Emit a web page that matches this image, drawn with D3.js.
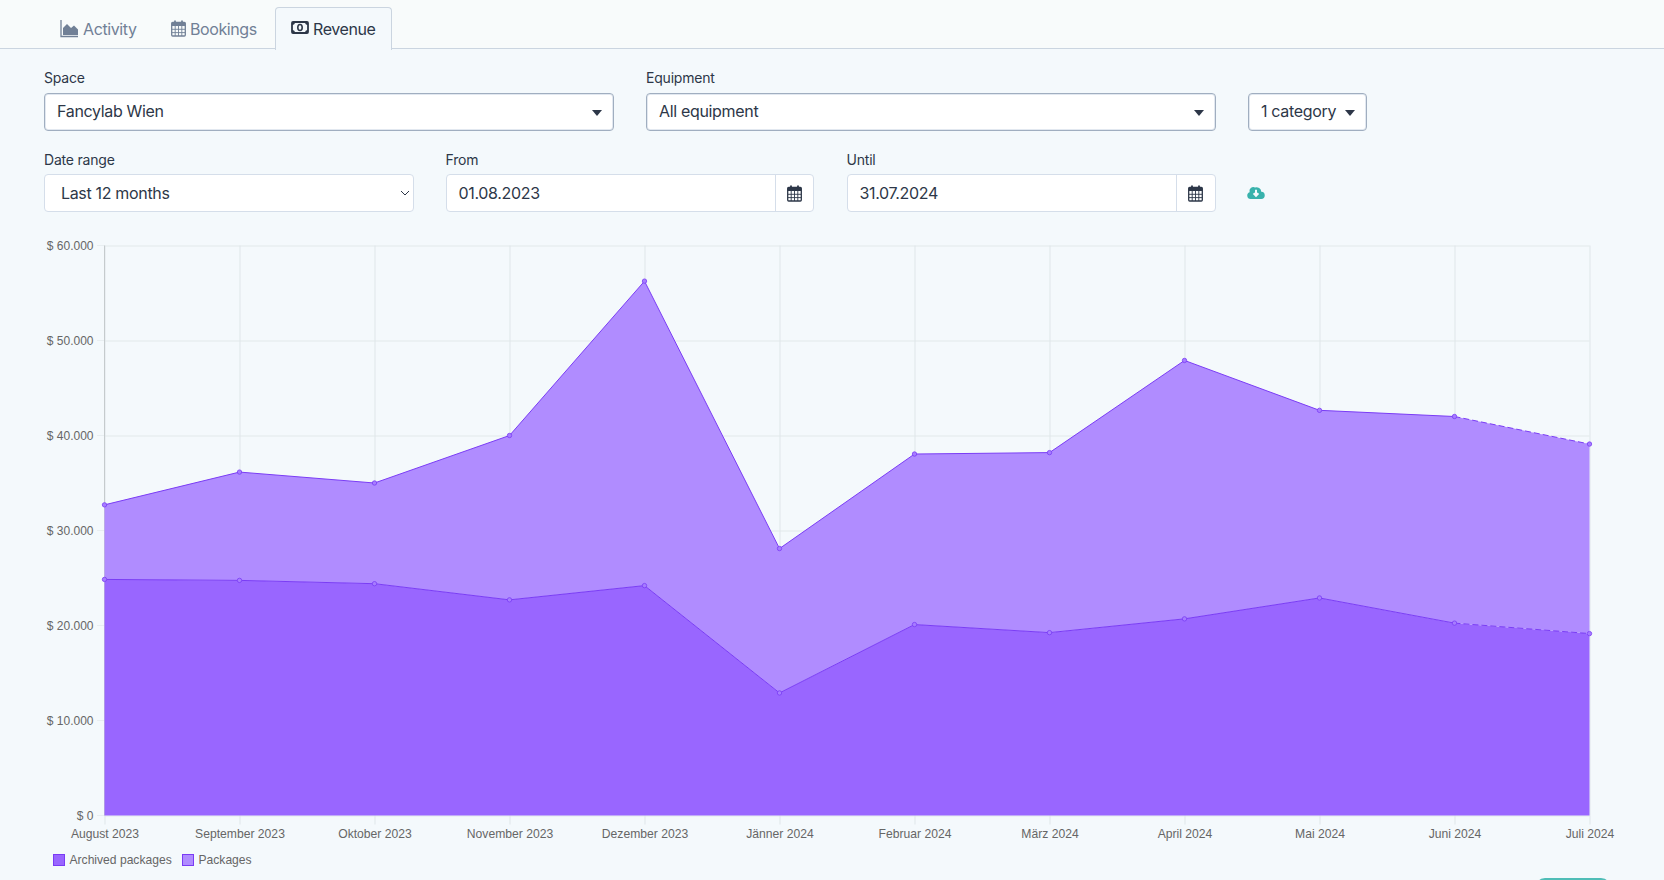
<!DOCTYPE html>
<html>
<head>
<meta charset="utf-8">
<script src="https://cdn.jsdelivr.net/npm/d3@7"></script>
<style>
html, body { margin: 0; padding: 0; width: 1664px; height: 880px; overflow: hidden; background: #f4f9fc; font-family: Inter, sans-serif; color: #2d3748; }
.abs { position: absolute; box-sizing: border-box; white-space: nowrap; }
.tabbar { left: 0; top: 0; width: 1664px; height: 49px; background: #f8fbfb; border-bottom: 1px solid #cbd5e0; }
.tab { top: 18.5px; font-size: 16px; line-height: 20px; color: #718096; letter-spacing: -0.4px; }
.tabactive { left: 275px; top: 7px; width: 117px; height: 43px; background: #f4f9fc; border: 1px solid #cbd5e0; border-bottom: none; border-radius: 4px 4px 0 0; }
.label { font-size: 14px; line-height: 18px; color: #2d3748; letter-spacing: -0.2px; }
.box { background: #fff; border-radius: 4px; font-size: 16px; line-height: 21px; color: #2d3748; display: flex; align-items: center; letter-spacing: -0.33px; }
.strong { border: 1px solid #a0aec0; box-shadow: 0 0 0 1px #e2e8f0 inset; }
.soft { border: 1px solid #d5deea; }
.caret { position: absolute; width: 0; height: 0; border-left: 5.5px solid transparent; border-right: 5.5px solid transparent; border-top: 6px solid #2d3748; }
.divider { position: absolute; top: 0; bottom: 0; width: 1px; background: #d5deea; }
svg.icon { position: absolute; overflow: visible; }
#chart { position: absolute; left: 0; top: 225px; }
.pill { left: 1535px; top: 878px; width: 76px; height: 20px; background: #4fbdb7; border-radius: 10px; }
</style>
</head>
<body>
<div class="abs tabbar"></div>
<div class="abs tabactive"></div>
<div class="abs tab" style="left:83px">Activity</div>
<div class="abs tab" style="left:190px">Bookings</div>
<div class="abs tab" style="left:313px;color:#2d3748">Revenue</div>

<div class="abs label" style="left:44px;top:69px">Space</div>
<div class="abs box strong" style="left:44px;top:92.5px;width:570px;height:38px;padding-left:12px">Fancylab Wien<span class="caret" style="right:11px;top:16px"></span></div>
<div class="abs label" style="left:646px;top:69px">Equipment</div>
<div class="abs box strong" style="left:646px;top:92.5px;width:570px;height:38px;padding-left:12px">All equipment<span class="caret" style="right:11px;top:16px"></span></div>
<div class="abs box strong" style="left:1248px;top:92.5px;width:118.5px;height:38px;padding-left:12px">1 category<span class="caret" style="right:11px;top:16px"></span></div>

<div class="abs label" style="left:44px;top:151px">Date range</div>
<div class="abs box soft" style="left:44px;top:174px;width:369.5px;height:38px;padding-left:16px">Last 12 months<svg class="icon" style="right:3px;top:15px" width="10" height="7"><path d="M1,1L5,5L9,1" fill="none" stroke="#2d3748" stroke-width="1"/></svg></div>
<div class="abs label" style="left:445.5px;top:151px">From</div>
<div class="abs box soft" style="left:445.5px;top:174px;width:368.5px;height:38px;padding-left:12px">01.08.2023<span class="divider" style="left:328px"></span><svg class="icon cal" style="left:340px;top:10px"></svg></div>
<div class="abs label" style="left:846.5px;top:151px">Until</div>
<div class="abs box soft" style="left:846.5px;top:174px;width:369.5px;height:38px;padding-left:12px">31.07.2024<span class="divider" style="left:328px"></span><svg class="icon cal" style="left:340px;top:10px"></svg></div>

<svg class="icon" style="left:1247px;top:185px" width="18" height="14"><path d="M3.5,14A3.5,3.5 0 0 1 2.6,7.2A4,4 0 0 1 8,2.4A5,5 0 0 1 14.3,6.8A3.6,3.6 0 0 1 14,14Z" fill="#38b2ac"/><path d="M9,4.8V10.2M6.6,8.2L9,10.8L11.4,8.2" fill="none" stroke="#f4f9fc" stroke-width="2"/></svg>

<svg id="tabicons" class="icon" style="left:0;top:0" width="400" height="48"></svg>
<svg id="chart" width="1664" height="655"></svg>
<div class="abs pill"></div>

<script>
// monthly revenue
var revenue = [
    { month: "August 2023", archived: 24850, packages: 7850 },
    { month: "September 2023", archived: 24750, packages: 11400 },
    { month: "Oktober 2023", archived: 24400, packages: 10600 },
    { month: "November 2023", archived: 22700, packages: 17300 },
    { month: "Dezember 2023", archived: 24200, packages: 32050 },
    { month: "Jänner 2024", archived: 12900, packages: 15200 },
    { month: "Februar 2024", archived: 20100, packages: 17950 },
    { month: "März 2024", archived: 19250, packages: 18950 },
    { month: "April 2024", archived: 20700, packages: 27200 },
    { month: "Mai 2024", archived: 22900, packages: 19750 },
    { month: "Juni 2024", archived: 20250, packages: 21750 },
    { month: "Juli 2024", archived: 19150, packages: 19950 }
];
var seriesInfo = {
    archived: { name: "Archived packages", fill: "#9966ff" },
    packages: { name: "Packages", fill: "#b08cff" }
};
var lineColor = "#7a3cf5";
var gridColor = "#e8eef1";
var textColor = "#666";

var svg = d3.select("#chart");
var chartFont = "'Liberation Sans', Arial, sans-serif";

var x = d3.scalePoint()
    .domain(revenue.map(function (d) { return d.month; }))
    .range([104.5, 1589.5]);
var y = d3.scaleLinear()
    .domain([0, 60000])
    .range([590.5, 20.5]);

function money(v) {
    return "$ " + d3.format(",")(v).replace(/,/g, ".");
}

// grid
svg.append("g")
    .attr("transform", "translate(104.5,0)")
    .call(d3.axisLeft(y).ticks(6).tickSize(-1485).tickSizeOuter(0).tickFormat(money))
    .call(function (g) {
        g.select(".domain").remove();
        g.selectAll("line").attr("stroke", gridColor).attr("stroke-width", 1.5);
        g.selectAll("text").attr("fill", textColor).style("font", "12px " + chartFont).attr("x", -11);
    });
svg.append("g")
    .attr("transform", "translate(0,590.5)")
    .call(d3.axisBottom(x).tickSize(-570).tickSizeOuter(0).tickFormat(""))
    .call(function (g) {
        g.select(".domain").remove();
        g.selectAll("line").attr("stroke", "#dfe6e9").attr("stroke-width", 1);
    });
svg.append("g")
    .attr("transform", "translate(0,590.5)")
    .call(d3.axisBottom(x).tickSize(9).tickSizeOuter(0).tickPadding(5))
    .call(function (g) {
        g.select(".domain").remove();
        g.selectAll("line").attr("stroke", "#dfe6e9");
        g.selectAll("text").attr("fill", textColor).style("font", "12.15px " + chartFont);
    });
// short ticks left of the y axis
svg.selectAll(".ytick")
    .data(y.ticks(6))
    .enter().append("line")
    .attr("x1", 97).attr("x2", 104.5)
    .attr("y1", function (d) { return y(d); })
    .attr("y2", function (d) { return y(d); })
    .attr("stroke", gridColor);
svg.append("line")
    .attr("x1", 104.5).attr("x2", 104.5)
    .attr("y1", y(60000)).attr("y2", y(0))
    .attr("stroke", "#c5cbcd");

// stacked areas
var keys = ["archived", "packages"];
var layers = d3.stack().keys(keys)(revenue);

var area = d3.area()
    .x(function (d) { return x(d.data.month); })
    .y0(function (d) { return y(d[0]); })
    .y1(function (d) { return y(d[1]); });

svg.selectAll(".layer")
    .data(layers)
    .enter().append("path")
    .attr("class", "layer")
    .attr("d", area)
    .attr("fill", function (d) { return seriesInfo[d.key].fill; });

var line = d3.line()
    .x(function (d) { return x(d.data.month); })
    .y(function (d) { return y(d[1]); });

layers.forEach(function (layer) {
    // last month is not complete yet, so it is dashed
    var solid = layer.slice(0, layer.length - 1);
    var dashed = layer.slice(layer.length - 2);
    svg.append("path")
        .attr("d", line(solid))
        .attr("fill", "none")
        .attr("stroke", lineColor)
        .attr("stroke-width", 1);
    svg.append("path")
        .attr("d", line(dashed))
        .attr("fill", "none")
        .attr("stroke", lineColor)
        .attr("stroke-width", 1)
        .attr("stroke-dasharray", "6,3");
    svg.selectAll(null)
        .data(layer)
        .enter().append("circle")
        .attr("cx", function (d) { return x(d.data.month); })
        .attr("cy", function (d) { return y(d[1]); })
        .attr("r", 2.2)
        .attr("fill", "#a67cff")
        .attr("stroke", lineColor)
        .attr("stroke-width", 0.8);
});

// legend
var legendX = [53.5, 182.5];
keys.forEach(function (key, i) {
    svg.append("rect")
        .attr("x", legendX[i]).attr("y", 629.5)
        .attr("width", 11).attr("height", 11)
        .attr("fill", seriesInfo[key].fill)
        .attr("stroke", lineColor);
    svg.append("text")
        .attr("x", legendX[i] + 16).attr("y", 639)
        .attr("fill", textColor)
        .style("font", "12.1px " + chartFont)
        .text(seriesInfo[key].name);
});

// small icons
function calendarIcon(sel, color, w) {
    sel.append("rect").attr("x", 0.7).attr("y", 2.5).attr("width", 13.6).attr("height", 13.5).attr("rx", 1)
        .attr("fill", "none").attr("stroke", color).attr("stroke-width", 1.3);
    sel.append("rect").attr("x", 0.7).attr("y", 2.5).attr("width", 13.6).attr("height", 3.5).attr("fill", color);
    sel.append("path").attr("d", "M4,0.5V3.5M11,0.5V3.5").attr("stroke", color).attr("stroke-width", 1.8);
    sel.append("path").attr("d", "M4.2,6V16M7.5,6V16M10.8,6V16M1,9.3H14M1,12.6H14").attr("stroke", color).attr("stroke-width", w);
}
d3.selectAll("svg.cal").attr("width", 15).attr("height", 17).each(function () {
    calendarIcon(d3.select(this), "#2d3748", 0.9);
});

var tabs = d3.select("#tabicons");
tabs.append("path").attr("d", "M61,20V36.5H78").attr("fill", "none").attr("stroke", "#718096").attr("stroke-width", 1.3);
tabs.append("path").attr("d", "M63,35V28L67,24L71,28L74,25.5L78,29.5V35Z").attr("fill", "#718096");
calendarIcon(tabs.append("g").attr("transform", "translate(171,20)"), "#718096", 0.9);
tabs.append("rect").attr("x", 292).attr("y", 22).attr("width", 16).attr("height", 11).attr("rx", 1)
    .attr("fill", "#f4f9fc").attr("stroke", "#2d3748").attr("stroke-width", 1.8);
tabs.append("path").attr("d", "M292,25A3,3 0 0 0 295,22L292,22ZM308,25A3,3 0 0 1 305,22L308,22ZM292,30A3,3 0 0 1 295,33L292,33ZM308,30A3,3 0 0 0 305,33L308,33Z").attr("fill", "#2d3748");
tabs.append("ellipse").attr("cx", 300).attr("cy", 27.5).attr("rx", 2.2).attr("ry", 3).attr("fill", "none").attr("stroke", "#2d3748").attr("stroke-width", 1.6);
</script>
</body>
</html>
